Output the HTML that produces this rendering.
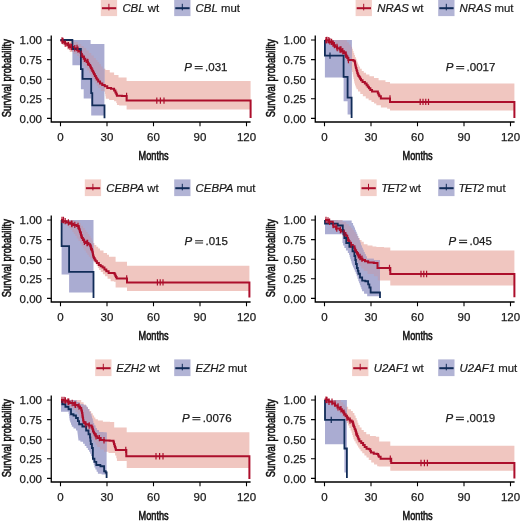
<!DOCTYPE html>
<html><head><meta charset="utf-8"><style>
html,body{margin:0;padding:0;background:#fff;}
svg{display:block;will-change:transform;filter:blur(0.3px);}
text{font-family:"Liberation Sans", sans-serif;fill:#222;}
.tk{font-size:11.5px;fill:#1a1a1a;stroke:#1a1a1a;stroke-width:0.25px;}
.ax{font-size:12.4px;fill:#111;stroke:#111;stroke-width:0.6px;}
.pv{font-size:11.5px;fill:#1a1a1a;stroke:#1a1a1a;stroke-width:0.25px;}
.lg{font-size:11.4px;fill:#1a1a1a;stroke:#1a1a1a;stroke-width:0.2px;}
</style></head><body>
<svg width="520" height="524" viewBox="0 0 520 524">
<rect width="520" height="524" fill="#fff"/>
<g transform="translate(0,0)">
<clipPath id="cb1"><path d="M72.4 40L90.6 40L90.6 44L104.4 44L104.4 115.6L91.2 115.6L91.2 98.4L83.7 98.4L83.7 89.2L80.9 89.2L80.9 65.2L72.4 65.2Z"/></clipPath>
<path d="M60.5 40L72 40L74 40L74 42L76 42L78 42L78 44L80 44L81.25 44L81.25 46L83.75 46L83.75 48L85 48L86.25 48L86.25 50.5L88.75 50.5L88.75 53L90 53L91.25 53L91.25 55.5L93.75 55.5L93.75 58L95 58L95.83 58L95.83 60L97.5 60L97.5 62L99.17 62L99.17 64L100 64L100.88 64L100.88 66.38L102.62 66.38L102.62 68.75L103.5 68.75L105.38 68.75L105.38 70L107.25 70L109.75 70L109.75 72.5L112.25 72.5L114.12 72.5L114.12 75L116 75L118.5 75L118.5 77.5L121 77.5L126.6 77.5L126.6 81L250.6 81L250.6 109.4L126.6 109.4L126.6 105.6L121 105.6L119.12 105.6L119.12 105L117.25 105L116.94 105L116.94 103.12L116.31 103.12L116.31 101.25L116 101.25L114.12 101.25L114.12 100L112.25 100L109.12 100L109.12 98.75L106 98.75L105.79 98.75L105.79 96.33L105.38 96.33L105.38 93.92L104.96 93.92L104.96 91.5L104.75 91.5L103.88 91.5L103.88 91L103 91L101 91L101 88L99 88L98.25 88L98.25 86L96.75 86L96.75 84L96 84L95.25 84L95.25 81.5L93.75 81.5L93.75 79L93 79L92.5 79L92.5 77L91.5 77L91.5 75L90.5 75L90.5 73L90 73L89 73L89 70.5L87 70.5L87 68L86 68L85.25 68L85.25 66L83.75 66L83.75 64L83 64L82.5 64L82.5 62L81.5 62L81.5 60L80.5 60L80.5 58L80 58L79 58L79 56L77 56L77 54L76 54L73.5 54L73.5 52L71 52L69.75 52L69.75 49.5L67.25 49.5L67.25 47L66 47L65 47L65 45L63 45L63 43L62 43L61.25 43L61.25 40L60.5 40Z" fill="rgb(240,198,192)"/>
<path d="M72.4 40L90.6 40L90.6 44L104.4 44L104.4 115.6L91.2 115.6L91.2 98.4L83.7 98.4L83.7 89.2L80.9 89.2L80.9 65.2L72.4 65.2Z" fill="rgb(170,172,210)"/>
<path d="M60.5 40L72 40L74 40L74 42L76 42L78 42L78 44L80 44L81.25 44L81.25 46L83.75 46L83.75 48L85 48L86.25 48L86.25 50.5L88.75 50.5L88.75 53L90 53L91.25 53L91.25 55.5L93.75 55.5L93.75 58L95 58L95.83 58L95.83 60L97.5 60L97.5 62L99.17 62L99.17 64L100 64L100.88 64L100.88 66.38L102.62 66.38L102.62 68.75L103.5 68.75L105.38 68.75L105.38 70L107.25 70L109.75 70L109.75 72.5L112.25 72.5L114.12 72.5L114.12 75L116 75L118.5 75L118.5 77.5L121 77.5L126.6 77.5L126.6 81L250.6 81L250.6 109.4L126.6 109.4L126.6 105.6L121 105.6L119.12 105.6L119.12 105L117.25 105L116.94 105L116.94 103.12L116.31 103.12L116.31 101.25L116 101.25L114.12 101.25L114.12 100L112.25 100L109.12 100L109.12 98.75L106 98.75L105.79 98.75L105.79 96.33L105.38 96.33L105.38 93.92L104.96 93.92L104.96 91.5L104.75 91.5L103.88 91.5L103.88 91L103 91L101 91L101 88L99 88L98.25 88L98.25 86L96.75 86L96.75 84L96 84L95.25 84L95.25 81.5L93.75 81.5L93.75 79L93 79L92.5 79L92.5 77L91.5 77L91.5 75L90.5 75L90.5 73L90 73L89 73L89 70.5L87 70.5L87 68L86 68L85.25 68L85.25 66L83.75 66L83.75 64L83 64L82.5 64L82.5 62L81.5 62L81.5 60L80.5 60L80.5 58L80 58L79 58L79 56L77 56L77 54L76 54L73.5 54L73.5 52L71 52L69.75 52L69.75 49.5L67.25 49.5L67.25 47L66 47L65 47L65 45L63 45L63 43L62 43L61.25 43L61.25 40L60.5 40Z" fill="rgb(182,162,190)" clip-path="url(#cb1)"/>
<path d="M60.5 40L61.25 40L61.25 40.5L62 40.5L63 40.5L63 42L65 42L65 43.5L66 43.5L67.25 43.5L67.25 45.25L69.75 45.25L69.75 47L71 47L73.5 47L73.5 48.3L76 48.3L77 48.3L77 49.65L79 49.65L79 51L80 51L80.38 51L80.38 52.5L81.12 52.5L81.12 54L81.88 54L81.88 55.5L82.62 55.5L82.62 57L83 57L83.75 57L83.75 58.75L85.25 58.75L85.25 60.5L86 60.5L86.62 60.5L86.62 62L87.88 62L87.88 63.5L89.12 63.5L89.12 65L89.75 65L90.12 65L90.12 66.5L90.88 66.5L90.88 68L91.62 68L91.62 69.5L92.38 69.5L92.38 71L93.12 71L93.12 72.5L93.5 72.5L93.97 72.5L93.97 74.25L94.91 74.25L94.91 76L95.84 76L95.84 77.75L96.78 77.75L96.78 79.5L97.25 79.5L98.19 79.5L98.19 81.5L100.06 81.5L100.06 83.5L101 83.5L102.25 83.5L102.25 85L103.5 85L104.75 85L104.75 86.25L106 86.25L107.25 86.25L107.25 88.1L108.5 88.1L111 88.1L111 88.75L113.5 88.75L114.12 88.75L114.12 90.62L115.38 90.62L115.38 92.5L116 92.5L116.31 92.5L116.31 94.15L116.94 94.15L116.94 95.8L117.25 95.8L121.92 95.8L121.92 96L126.6 96L126.6 100.6L250.6 100.6L250.6 118" stroke="#AC0E2B" stroke-width="2" fill="none"/>
<path d="M60.5 40L72.4 40L72.4 49L80.9 49L80.9 69.2L82.6 69.2L82.6 78.9L91.2 78.9L91.2 93.2L92.3 93.2L92.3 105.4L104.5 105.4L104.5 118.2" stroke="#112C58" stroke-width="1.8" fill="none"/>
<path d="M126.6 92.8V99.2M156.8 97.4V103.8M160.4 97.4V103.8M164 97.4V103.8M63 37.8V44.2M70 43.3V49.7M77 44.8V51.2M88 59.3V65.7M62 37.3V43.7M65.2 40.3V46.7M68.4 42.05V48.45M71.6 43.8V50.2M74.8 45.1V51.5M78 46.45V52.85M81.2 50.8V57.2M84.4 55.55V61.95M87.6 58.8V65.2" stroke="#AC0E2B" stroke-width="1.2" fill="none"/>
<path d="M51.25 35.6V122.6M50.6 122H250.6" stroke="#000" stroke-width="1.3" fill="none"/>
<path d="M47 40H51.25M47 59.6H51.25M47 79.2H51.25M47 98.8H51.25M47 118.4H51.25M60.5 122V126.3M107 122V126.3M153.5 122V126.3M200 122V126.3M246.5 122V126.3" stroke="#000" stroke-width="1.1" fill="none"/>
<text x="42" y="44.3" text-anchor="end" class="tk">1.00</text>
<text x="42" y="63.9" text-anchor="end" class="tk">0.75</text>
<text x="42" y="83.5" text-anchor="end" class="tk">0.50</text>
<text x="42" y="103.1" text-anchor="end" class="tk">0.25</text>
<text x="42" y="122.7" text-anchor="end" class="tk">0.00</text>
<text x="60.5" y="140.6" text-anchor="middle" class="tk">0</text>
<text x="107" y="140.6" text-anchor="middle" class="tk">30</text>
<text x="153.5" y="140.6" text-anchor="middle" class="tk">60</text>
<text x="200" y="140.6" text-anchor="middle" class="tk">90</text>
<text x="246.5" y="140.6" text-anchor="middle" class="tk">120</text>
<text transform="translate(153.6,159.5) scale(0.74,1)" text-anchor="middle" class="ax">Months</text>
<text transform="translate(10.6,78.2) rotate(-90) scale(0.75,1)" text-anchor="middle" class="ax">Survival probability</text>
<text x="184.2" y="70.7" class="pv" font-style="italic">P</text>
<path d="M194.7 66.4h8M194.7 68.7h8" stroke="#222" stroke-width="1.05" fill="none"/>
<text x="205.1" y="70.7" class="pv">.031</text>
<rect x="100.8" y="-0.6" width="16.3" height="16.7" fill="rgb(243,207,201)"/>
<path d="M101.9 8.2H116.2" stroke="#AC0E2B" stroke-width="2" fill="none"/>
<path d="M108.9 3.8V10.4" stroke="#AC0E2B" stroke-width="1" fill="none"/>
<text x="122.4" y="11.6" class="lg"><tspan font-style="italic">CBL</tspan> wt</text>
<rect x="174.2" y="-0.6" width="16.3" height="16.7" fill="rgb(178,180,213)"/>
<path d="M175.3 8.2H189.6" stroke="#112C58" stroke-width="2" fill="none"/>
<path d="M182.3 3.8V10.4" stroke="#112C58" stroke-width="1" fill="none"/>
<text x="195.6" y="11.6" class="lg"><tspan font-style="italic">CBL</tspan> mut</text>
</g>
<g transform="translate(264,0)">
<clipPath id="cb2"><path d="M60.9 40L87.9 40L87.9 114.4L83.6 114.4L83.6 101.25L79.6 101.25L79.6 77.4L60.9 77.4Z"/></clipPath>
<path d="M60.9 40L82 40L82.96 40L82.96 42.25L84.88 42.25L84.88 44.5L86.79 44.5L86.79 46.75L87.75 46.75L88.11 46.75L88.11 48.81L88.82 48.81L88.82 50.88L89.53 50.88L89.53 52.94L90.24 52.94L90.24 55L90.6 55L90.98 55L90.98 56.9L91.75 56.9L91.75 58.8L92.52 58.8L92.52 60.7L92.9 60.7L93.28 60.7L93.28 62.6L94.05 62.6L94.05 64.5L94.82 64.5L94.82 66.4L95.2 66.4L96.05 66.4L96.05 68.7L97.75 68.7L97.75 71L98.6 71L99.75 71L99.75 72.75L102.05 72.75L102.05 74.5L103.2 74.5L105.45 74.5L105.45 76.2L107.7 76.2L110 76.2L110 77.9L112.3 77.9L114.6 77.9L114.6 80.2L116.9 80.2L121.45 80.2L121.45 81.9L126 81.9L126 83.6L250.4 83.6L250.4 110.5L126 110.5L126 108.8L123.15 108.8L123.15 107.6L120.3 107.6L116.9 107.6L116.9 105.3L113.5 105.3L112.35 105.3L112.35 103.6L110.05 103.6L110.05 101.9L108.9 101.9L107.48 101.9L107.48 100.2L104.62 100.2L104.62 98.5L103.2 98.5L101.75 98.5L101.75 96.2L98.85 96.2L98.85 93.9L97.4 93.9L96.28 93.9L96.28 91.6L94.03 91.6L94.03 89.3L92.9 89.3L92.52 89.3L92.52 87.4L91.75 87.4L91.75 85.5L90.98 85.5L90.98 83.6L90.6 83.6L90.39 83.6L90.39 81.28L89.97 81.28L89.97 78.96L89.55 78.96L89.55 76.64L89.13 76.64L89.13 74.32L88.71 74.32L88.71 72L88.5 72L88.08 72L88.08 70L87.25 70L87.25 68L86.42 68L86.42 66L86 66L85.33 66L85.33 64L84 64L84 62L82.67 62L82.67 60L82 60L81.17 60L81.17 58L79.5 58L79.5 56L77.83 56L77.83 54L77 54L75.75 54L75.75 52L73.25 52L73.25 50L72 50L71 50L71 48L69 48L69 46L67 46L67 44L66 44L64.72 44L64.72 42L62.17 42L62.17 40L60.9 40Z" fill="rgb(240,198,192)"/>
<path d="M60.9 40L87.9 40L87.9 114.4L83.6 114.4L83.6 101.25L79.6 101.25L79.6 77.4L60.9 77.4Z" fill="rgb(170,172,210)"/>
<path d="M60.9 40L82 40L82.96 40L82.96 42.25L84.88 42.25L84.88 44.5L86.79 44.5L86.79 46.75L87.75 46.75L88.11 46.75L88.11 48.81L88.82 48.81L88.82 50.88L89.53 50.88L89.53 52.94L90.24 52.94L90.24 55L90.6 55L90.98 55L90.98 56.9L91.75 56.9L91.75 58.8L92.52 58.8L92.52 60.7L92.9 60.7L93.28 60.7L93.28 62.6L94.05 62.6L94.05 64.5L94.82 64.5L94.82 66.4L95.2 66.4L96.05 66.4L96.05 68.7L97.75 68.7L97.75 71L98.6 71L99.75 71L99.75 72.75L102.05 72.75L102.05 74.5L103.2 74.5L105.45 74.5L105.45 76.2L107.7 76.2L110 76.2L110 77.9L112.3 77.9L114.6 77.9L114.6 80.2L116.9 80.2L121.45 80.2L121.45 81.9L126 81.9L126 83.6L250.4 83.6L250.4 110.5L126 110.5L126 108.8L123.15 108.8L123.15 107.6L120.3 107.6L116.9 107.6L116.9 105.3L113.5 105.3L112.35 105.3L112.35 103.6L110.05 103.6L110.05 101.9L108.9 101.9L107.48 101.9L107.48 100.2L104.62 100.2L104.62 98.5L103.2 98.5L101.75 98.5L101.75 96.2L98.85 96.2L98.85 93.9L97.4 93.9L96.28 93.9L96.28 91.6L94.03 91.6L94.03 89.3L92.9 89.3L92.52 89.3L92.52 87.4L91.75 87.4L91.75 85.5L90.98 85.5L90.98 83.6L90.6 83.6L90.39 83.6L90.39 81.28L89.97 81.28L89.97 78.96L89.55 78.96L89.55 76.64L89.13 76.64L89.13 74.32L88.71 74.32L88.71 72L88.5 72L88.08 72L88.08 70L87.25 70L87.25 68L86.42 68L86.42 66L86 66L85.33 66L85.33 64L84 64L84 62L82.67 62L82.67 60L82 60L81.17 60L81.17 58L79.5 58L79.5 56L77.83 56L77.83 54L77 54L75.75 54L75.75 52L73.25 52L73.25 50L72 50L71 50L71 48L69 48L69 46L67 46L67 44L66 44L64.72 44L64.72 42L62.17 42L62.17 40L60.9 40Z" fill="rgb(182,162,190)" clip-path="url(#cb2)"/>
<path d="M60.9 40.2L62.2 40.2L65 40.2L65 41.9L67.8 41.9L68.48 41.9L68.48 43.53L69.85 43.53L69.85 45.17L71.22 45.17L71.22 46.8L71.9 46.8L73.12 46.8L73.12 48.15L75.58 48.15L75.58 49.5L76.8 49.5L77.85 49.5L77.85 51.25L79.95 51.25L79.95 53L81 53L81.45 53L81.45 54.63L82.35 54.63L82.35 56.27L83.25 56.27L83.25 57.9L83.7 57.9L84.35 57.9L84.35 60L85 60L86.65 60L86.65 60.1L88.3 60.1L89.45 60.1L89.45 60.7L90.6 60.7L90.74 60.7L90.74 62.12L91.01 62.12L91.01 63.55L91.29 63.55L91.29 64.98L91.56 64.98L91.56 66.4L91.7 66.4L91.93 66.4L91.93 68.02L92.39 68.02L92.39 69.64L92.85 69.64L92.85 71.26L93.31 71.26L93.31 72.88L93.77 72.88L93.77 74.5L94 74.5L94.42 74.5L94.42 75.92L95.28 75.92L95.28 77.35L96.12 77.35L96.12 78.78L96.98 78.78L96.98 80.2L97.4 80.2L98.55 80.2L98.55 81.9L100.85 81.9L100.85 83.6L102 83.6L102.58 83.6L102.58 85.13L103.75 85.13L103.75 86.67L104.92 86.67L104.92 88.2L105.5 88.2L106.35 88.2L106.35 89.9L108.05 89.9L108.05 91.6L108.9 91.6L113.5 91.6L113.87 91.6L113.87 93.13L114.6 93.13L114.6 94.67L115.33 94.67L115.33 96.2L115.7 96.2L116.85 96.2L116.85 98.5L118 98.5L126 98.5L126 101.9L250.4 101.9L250.4 118" stroke="#AC0E2B" stroke-width="2" fill="none"/>
<path d="M60.9 40L60.9 55.6L79.6 55.6L79.6 76.8L83.6 76.8L83.6 97.7L87.6 97.7L87.6 118.1" stroke="#112C58" stroke-width="1.8" fill="none"/>
<path d="M126 95.3V101.7M156.2 98.7V105.1M159 98.7V105.1M161.75 98.7V105.1M164.5 98.7V105.1M63 36.8V43.2M66 38.3V44.7M69 40.3V46.7M73 43.8V50.2M77 46.3V52.7M82 51.3V57.7M62 37V43.4M64.8 37V43.4M67.6 38.7V45.1M70.4 41.97V48.37M73.2 44.95V51.35M76 46.3V52.7M78.8 48.05V54.45M81.6 51.43V57.83M84.4 56.8V63.2" stroke="#AC0E2B" stroke-width="1.2" fill="none"/>
<path d="M66 52.4V58.8" stroke="#112C58" stroke-width="1.2" fill="none"/>
<path d="M51.25 35.6V122.6M50.6 122H250.6" stroke="#000" stroke-width="1.3" fill="none"/>
<path d="M47 40H51.25M47 59.6H51.25M47 79.2H51.25M47 98.8H51.25M47 118.4H51.25M60.5 122V126.3M107 122V126.3M153.5 122V126.3M200 122V126.3M246.5 122V126.3" stroke="#000" stroke-width="1.1" fill="none"/>
<text x="42" y="44.3" text-anchor="end" class="tk">1.00</text>
<text x="42" y="63.9" text-anchor="end" class="tk">0.75</text>
<text x="42" y="83.5" text-anchor="end" class="tk">0.50</text>
<text x="42" y="103.1" text-anchor="end" class="tk">0.25</text>
<text x="42" y="122.7" text-anchor="end" class="tk">0.00</text>
<text x="60.5" y="140.6" text-anchor="middle" class="tk">0</text>
<text x="107" y="140.6" text-anchor="middle" class="tk">30</text>
<text x="153.5" y="140.6" text-anchor="middle" class="tk">60</text>
<text x="200" y="140.6" text-anchor="middle" class="tk">90</text>
<text x="246.5" y="140.6" text-anchor="middle" class="tk">120</text>
<text transform="translate(153.6,159.5) scale(0.74,1)" text-anchor="middle" class="ax">Months</text>
<text transform="translate(10.6,78.2) rotate(-90) scale(0.75,1)" text-anchor="middle" class="ax">Survival probability</text>
<text x="181.7" y="70.8" class="pv" font-style="italic">P</text>
<path d="M192.2 66.5h8M192.2 68.8h8" stroke="#222" stroke-width="1.05" fill="none"/>
<text x="202.6" y="70.8" class="pv">.0017</text>
<rect x="91.6" y="-0.6" width="16.3" height="16.7" fill="rgb(243,207,201)"/>
<path d="M92.7 8.2H107" stroke="#AC0E2B" stroke-width="2" fill="none"/>
<path d="M99.7 3.8V10.4" stroke="#AC0E2B" stroke-width="1" fill="none"/>
<text x="113.2" y="11.6" class="lg"><tspan font-style="italic">NRAS</tspan> wt</text>
<rect x="174.2" y="-0.6" width="16.3" height="16.7" fill="rgb(178,180,213)"/>
<path d="M175.3 8.2H189.6" stroke="#112C58" stroke-width="2" fill="none"/>
<path d="M182.3 3.8V10.4" stroke="#112C58" stroke-width="1" fill="none"/>
<text x="195.6" y="11.6" class="lg"><tspan font-style="italic">NRAS</tspan> mut</text>
</g>
<g transform="translate(0,180)">
<clipPath id="cb3"><path d="M61.6 40L93.5 40L93.5 112.5L69.1 112.5L69.1 94.4L61.6 94.4Z"/></clipPath>
<path d="M61 40L70 40L74 40L74 41L78 41L79 41L79 43.33L81 43.33L81 45.67L83 45.67L83 48L84 48L84.75 48L84.75 50L86.25 50L86.25 52L87.75 52L87.75 54L89.25 54L89.25 56L90 56L90.58 56L90.58 58.33L91.75 58.33L91.75 60.67L92.92 60.67L92.92 63L93.5 63L94.44 63L94.44 64.88L96.31 64.88L96.31 66.75L97.25 66.75L98.19 66.75L98.19 68.62L100.06 68.62L100.06 70.5L101 70.5L103.5 70.5L103.5 73L106 73L107 73L107 74.85L109 74.85L109 76.7L110 76.7L115.6 76.7L115.6 81.75L127 81.75L127 85.65L249.4 85.65L249.4 111L127 111L127 107.4L115.6 107.4L115.6 101.8L113.92 101.8L113.92 101.25L112.25 101.25L110.69 101.25L110.69 98.75L107.56 98.75L107.56 96.25L106 96.25L104.96 96.25L104.96 94.17L102.88 94.17L102.88 92.08L100.79 92.08L100.79 90L99.75 90L99.12 90L99.12 87.88L97.88 87.88L97.88 85.75L96.62 85.75L96.62 83.62L95.38 83.62L95.38 81.5L94.75 81.5L93.58 81.5L93.58 80.5L92.4 80.5L91.68 80.5L91.68 78.58L90.22 78.58L90.22 76.65L88.78 76.65L88.78 74.72L87.32 74.72L87.32 72.8L86.6 72.8L85.89 72.8L85.89 70.5L84.46 70.5L84.46 68.2L83.04 68.2L83.04 65.9L81.61 65.9L81.61 63.6L80.9 63.6L80.08 63.6L80.08 61.07L78.45 61.07L78.45 58.53L76.82 58.53L76.82 56L76 56L75.28 56L75.28 54L73.85 54L73.85 52L72.42 52L72.42 50L71.7 50L70.75 50L70.75 48L68.85 48L68.85 46L66.95 46L66.95 44L66 44L63.5 44L63.5 41L61 41Z" fill="rgb(240,198,192)"/>
<path d="M61.6 40L93.5 40L93.5 112.5L69.1 112.5L69.1 94.4L61.6 94.4Z" fill="rgb(170,172,210)"/>
<path d="M61 40L70 40L74 40L74 41L78 41L79 41L79 43.33L81 43.33L81 45.67L83 45.67L83 48L84 48L84.75 48L84.75 50L86.25 50L86.25 52L87.75 52L87.75 54L89.25 54L89.25 56L90 56L90.58 56L90.58 58.33L91.75 58.33L91.75 60.67L92.92 60.67L92.92 63L93.5 63L94.44 63L94.44 64.88L96.31 64.88L96.31 66.75L97.25 66.75L98.19 66.75L98.19 68.62L100.06 68.62L100.06 70.5L101 70.5L103.5 70.5L103.5 73L106 73L107 73L107 74.85L109 74.85L109 76.7L110 76.7L115.6 76.7L115.6 81.75L127 81.75L127 85.65L249.4 85.65L249.4 111L127 111L127 107.4L115.6 107.4L115.6 101.8L113.92 101.8L113.92 101.25L112.25 101.25L110.69 101.25L110.69 98.75L107.56 98.75L107.56 96.25L106 96.25L104.96 96.25L104.96 94.17L102.88 94.17L102.88 92.08L100.79 92.08L100.79 90L99.75 90L99.12 90L99.12 87.88L97.88 87.88L97.88 85.75L96.62 85.75L96.62 83.62L95.38 83.62L95.38 81.5L94.75 81.5L93.58 81.5L93.58 80.5L92.4 80.5L91.68 80.5L91.68 78.58L90.22 78.58L90.22 76.65L88.78 76.65L88.78 74.72L87.32 74.72L87.32 72.8L86.6 72.8L85.89 72.8L85.89 70.5L84.46 70.5L84.46 68.2L83.04 68.2L83.04 65.9L81.61 65.9L81.61 63.6L80.9 63.6L80.08 63.6L80.08 61.07L78.45 61.07L78.45 58.53L76.82 58.53L76.82 56L76 56L75.28 56L75.28 54L73.85 54L73.85 52L72.42 52L72.42 50L71.7 50L70.75 50L70.75 48L68.85 48L68.85 46L66.95 46L66.95 44L66 44L63.5 44L63.5 41L61 41Z" fill="rgb(182,162,190)" clip-path="url(#cb3)"/>
<path d="M61 39.9L62.88 39.9L62.88 41.15L66.62 41.15L66.62 42.4L68.5 42.4L70.06 42.4L70.06 43.65L73.19 43.65L73.19 44.9L74.75 44.9L76.62 44.9L76.62 46L78.5 46L78.71 46L78.71 47.5L79.12 47.5L79.12 49L79.54 49L79.54 50.5L79.75 50.5L80 50.5L80 52L80.5 52L80.5 53.5L81 53.5L81 55L81.5 55L81.5 56.5L82 56.5L82 58L82.25 58L82.88 58L82.88 59.88L84.12 59.88L84.12 61.75L84.75 61.75L86 61.75L86 63L88.5 63L88.5 64.25L89.75 64.25L90.06 64.25L90.06 65.81L90.69 65.81L90.69 67.38L91.31 67.38L91.31 68.94L91.94 68.94L91.94 70.5L92.25 70.5L92.41 70.5L92.41 72.06L92.72 72.06L92.72 73.62L93.03 73.62L93.03 75.19L93.34 75.19L93.34 76.75L93.5 76.75L93.92 76.75L93.92 78.25L94.75 78.25L94.75 79.75L95.58 79.75L95.58 81.25L96 81.25L96.94 81.25L96.94 83.12L98.81 83.12L98.81 85L99.75 85L100.69 85L100.69 86.25L102.56 86.25L102.56 87.5L103.5 87.5L104.44 87.5L104.44 89.38L106.31 89.38L106.31 91.25L107.25 91.25L108.62 91.25L108.62 92.9L110 92.9L112.1 92.9L112.1 93L114.2 93L114.55 93L114.55 94.35L115.25 94.35L115.25 95.7L115.6 95.7L115.95 95.7L115.95 97.1L116.65 97.1L116.65 98.5L117 98.5L127 98.5L127 102.4L249.4 102.4L249.4 117.5" stroke="#AC0E2B" stroke-width="2" fill="none"/>
<path d="M61.6 40L61.6 66.1L69.1 66.1L69.1 91.9L93.5 91.9L93.5 118.1" stroke="#112C58" stroke-width="1.8" fill="none"/>
<path d="M126.7 95.3V101.7M157.4 99.2V105.6M160.2 99.2V105.6M163 99.2V105.6M63.5 36.8V43.2M72 40.8V47.2M87 59.8V66.2M62 36.7V43.1M65.2 37.95V44.35M68.4 39.2V45.6M71.6 40.45V46.85M74.8 41.7V48.1M78 42.8V49.2M81.2 51.8V58.2M84.4 58.55V64.95M87.6 59.8V66.2M90.8 64.17V70.58" stroke="#AC0E2B" stroke-width="1.2" fill="none"/>
<path d="M51.25 35.6V122.6M50.6 122H250.6" stroke="#000" stroke-width="1.3" fill="none"/>
<path d="M47 40H51.25M47 59.6H51.25M47 79.2H51.25M47 98.8H51.25M47 118.4H51.25M60.5 122V126.3M107 122V126.3M153.5 122V126.3M200 122V126.3M246.5 122V126.3" stroke="#000" stroke-width="1.1" fill="none"/>
<text x="42" y="44.3" text-anchor="end" class="tk">1.00</text>
<text x="42" y="63.9" text-anchor="end" class="tk">0.75</text>
<text x="42" y="83.5" text-anchor="end" class="tk">0.50</text>
<text x="42" y="103.1" text-anchor="end" class="tk">0.25</text>
<text x="42" y="122.7" text-anchor="end" class="tk">0.00</text>
<text x="60.5" y="140.6" text-anchor="middle" class="tk">0</text>
<text x="107" y="140.6" text-anchor="middle" class="tk">30</text>
<text x="153.5" y="140.6" text-anchor="middle" class="tk">60</text>
<text x="200" y="140.6" text-anchor="middle" class="tk">90</text>
<text x="246.5" y="140.6" text-anchor="middle" class="tk">120</text>
<text transform="translate(153.6,159.5) scale(0.74,1)" text-anchor="middle" class="ax">Months</text>
<text transform="translate(10.6,78.2) rotate(-90) scale(0.75,1)" text-anchor="middle" class="ax">Survival probability</text>
<text x="184.6" y="65" class="pv" font-style="italic">P</text>
<path d="M195.1 60.7h8M195.1 63h8" stroke="#222" stroke-width="1.05" fill="none"/>
<text x="205.5" y="65" class="pv">.015</text>
<rect x="84.8" y="-0.6" width="16.3" height="16.7" fill="rgb(243,207,201)"/>
<path d="M85.9 8.2H100.2" stroke="#AC0E2B" stroke-width="2" fill="none"/>
<path d="M92.9 3.8V10.4" stroke="#AC0E2B" stroke-width="1" fill="none"/>
<text x="106.3" y="11.6" class="lg"><tspan font-style="italic">CEBPA</tspan> wt</text>
<rect x="174.2" y="-0.6" width="16.3" height="16.7" fill="rgb(178,180,213)"/>
<path d="M175.3 8.2H189.6" stroke="#112C58" stroke-width="2" fill="none"/>
<path d="M182.3 3.8V10.4" stroke="#112C58" stroke-width="1" fill="none"/>
<text x="195.6" y="11.6" class="lg"><tspan font-style="italic">CEBPA</tspan> mut</text>
</g>
<g transform="translate(264,180)">
<clipPath id="cb4"><path d="M61 40L74 40L74 40.5L87 40.5L87.69 40.5L87.69 43L89.06 43L89.06 45.5L89.75 45.5L90.17 45.5L90.17 47.58L91 47.58L91 49.67L91.83 49.67L91.83 51.75L92.25 51.75L92.67 51.75L92.67 53.83L93.5 53.83L93.5 55.92L94.33 55.92L94.33 58L94.75 58L95.06 58L95.06 59.88L95.69 59.88L95.69 61.75L96 61.75L96.31 61.75L96.31 63.62L96.94 63.62L96.94 65.5L97.25 65.5L97.71 65.5L97.71 67.67L98.62 67.67L98.62 69.83L99.54 69.83L99.54 72L100 72L100.58 72L100.58 74.25L101.75 74.25L101.75 76.5L102.92 76.5L102.92 78.75L103.5 78.75L109.75 78.75L109.75 80L116 80L116 116.25L104.75 116.25L103.19 116.25L103.19 113.75L100.06 113.75L100.06 111.25L98.5 111.25L98.12 111.25L98.12 109.25L97.38 109.25L97.38 107.25L96.62 107.25L96.62 105.25L95.88 105.25L95.88 103.25L95.12 103.25L95.12 101.25L94.75 101.25L94.33 101.25L94.33 98.75L93.5 98.75L93.5 96.25L92.67 96.25L92.67 93.75L92.25 93.75L91.78 93.75L91.78 91.69L90.84 91.69L90.84 89.62L89.91 89.62L89.91 87.56L88.97 87.56L88.97 85.5L88.5 85.5L88.19 85.5L88.19 83.42L87.56 83.42L87.56 81.33L86.94 81.33L86.94 79.25L86.31 79.25L86.31 77.17L85.69 77.17L85.69 75.08L85.06 75.08L85.06 73L84.75 73L83.81 73L83.81 70.5L81.94 70.5L81.94 68L81 68L80.38 68L80.38 65.5L79.12 65.5L79.12 63L78.5 63L78.5 54.25L61 54.25Z"/></clipPath>
<path d="M61 40L76 40L78.5 40L78.5 42L81 42L82.25 42L82.25 44L84.75 44L84.75 46L86 46L86.83 46L86.83 48L88.5 48L88.5 50L90.17 50L90.17 52L91 52L91.62 52L91.62 54L92.88 54L92.88 56L94.12 56L94.12 58L94.75 58L95.69 58L95.69 59.88L97.56 59.88L97.56 61.75L98.5 61.75L99.75 61.75L99.75 64.25L101 64.25L103.5 64.25L103.5 65.5L106 65.5L108.5 65.5L108.5 66.5L111 66.5L112.4 66.5L112.4 67L113.8 67L120.05 67L120.05 67.5L126.3 67.5L126.3 70.6L250.4 70.6L250.4 105.5L126.3 105.5L126.3 100.4L113.8 100.4L113.8 96.25L109.9 96.25L109.9 94L106 94L103.5 94L103.5 91L101 91L99.75 91L99.75 88.5L97.25 88.5L97.25 86L96 86L95.38 86L95.38 84L94.12 84L94.12 82L92.88 82L92.88 80L91.62 80L91.62 78L91 78L90.5 78L90.5 76L89.5 76L89.5 74L88.5 74L88.5 72L87.5 72L87.5 70L86.5 70L86.5 68L86 68L85.5 68L85.5 66L84.5 66L84.5 64L83.5 64L83.5 62L82.5 62L82.5 60L81.5 60L81.5 58L81 58L80.38 58L80.38 56L79.12 56L79.12 54L77.88 54L77.88 52L76.62 52L76.62 50L76 50L74.25 50L74.25 47.5L70.75 47.5L70.75 45L69 45L67 45L67 43L63 43L63 41L61 41Z" fill="rgb(240,198,192)"/>
<path d="M61 40L74 40L74 40.5L87 40.5L87.69 40.5L87.69 43L89.06 43L89.06 45.5L89.75 45.5L90.17 45.5L90.17 47.58L91 47.58L91 49.67L91.83 49.67L91.83 51.75L92.25 51.75L92.67 51.75L92.67 53.83L93.5 53.83L93.5 55.92L94.33 55.92L94.33 58L94.75 58L95.06 58L95.06 59.88L95.69 59.88L95.69 61.75L96 61.75L96.31 61.75L96.31 63.62L96.94 63.62L96.94 65.5L97.25 65.5L97.71 65.5L97.71 67.67L98.62 67.67L98.62 69.83L99.54 69.83L99.54 72L100 72L100.58 72L100.58 74.25L101.75 74.25L101.75 76.5L102.92 76.5L102.92 78.75L103.5 78.75L109.75 78.75L109.75 80L116 80L116 116.25L104.75 116.25L103.19 116.25L103.19 113.75L100.06 113.75L100.06 111.25L98.5 111.25L98.12 111.25L98.12 109.25L97.38 109.25L97.38 107.25L96.62 107.25L96.62 105.25L95.88 105.25L95.88 103.25L95.12 103.25L95.12 101.25L94.75 101.25L94.33 101.25L94.33 98.75L93.5 98.75L93.5 96.25L92.67 96.25L92.67 93.75L92.25 93.75L91.78 93.75L91.78 91.69L90.84 91.69L90.84 89.62L89.91 89.62L89.91 87.56L88.97 87.56L88.97 85.5L88.5 85.5L88.19 85.5L88.19 83.42L87.56 83.42L87.56 81.33L86.94 81.33L86.94 79.25L86.31 79.25L86.31 77.17L85.69 77.17L85.69 75.08L85.06 75.08L85.06 73L84.75 73L83.81 73L83.81 70.5L81.94 70.5L81.94 68L81 68L80.38 68L80.38 65.5L79.12 65.5L79.12 63L78.5 63L78.5 54.25L61 54.25Z" fill="rgb(170,172,210)"/>
<path d="M61 40L76 40L78.5 40L78.5 42L81 42L82.25 42L82.25 44L84.75 44L84.75 46L86 46L86.83 46L86.83 48L88.5 48L88.5 50L90.17 50L90.17 52L91 52L91.62 52L91.62 54L92.88 54L92.88 56L94.12 56L94.12 58L94.75 58L95.69 58L95.69 59.88L97.56 59.88L97.56 61.75L98.5 61.75L99.75 61.75L99.75 64.25L101 64.25L103.5 64.25L103.5 65.5L106 65.5L108.5 65.5L108.5 66.5L111 66.5L112.4 66.5L112.4 67L113.8 67L120.05 67L120.05 67.5L126.3 67.5L126.3 70.6L250.4 70.6L250.4 105.5L126.3 105.5L126.3 100.4L113.8 100.4L113.8 96.25L109.9 96.25L109.9 94L106 94L103.5 94L103.5 91L101 91L99.75 91L99.75 88.5L97.25 88.5L97.25 86L96 86L95.38 86L95.38 84L94.12 84L94.12 82L92.88 82L92.88 80L91.62 80L91.62 78L91 78L90.5 78L90.5 76L89.5 76L89.5 74L88.5 74L88.5 72L87.5 72L87.5 70L86.5 70L86.5 68L86 68L85.5 68L85.5 66L84.5 66L84.5 64L83.5 64L83.5 62L82.5 62L82.5 60L81.5 60L81.5 58L81 58L80.38 58L80.38 56L79.12 56L79.12 54L77.88 54L77.88 52L76.62 52L76.62 50L76 50L74.25 50L74.25 47.5L70.75 47.5L70.75 45L69 45L67 45L67 43L63 43L63 41L61 41Z" fill="rgb(182,162,190)" clip-path="url(#cb4)"/>
<path d="M61 39.9L64.75 39.9L64.75 41.75L68.5 41.75L68.71 41.75L68.71 43.42L69.12 43.42L69.12 45.08L69.54 45.08L69.54 46.75L69.75 46.75L72.25 46.75L72.25 48.6L74.75 48.6L75.79 48.6L75.79 50.07L77.88 50.07L77.88 51.53L79.96 51.53L79.96 53L81 53L81.42 53L81.42 54.67L82.25 54.67L82.25 56.33L83.08 56.33L83.08 58L83.5 58L83.92 58L83.92 59.67L84.75 59.67L84.75 61.33L85.58 61.33L85.58 63L86 63L86.94 63L86.94 64.88L88.81 64.88L88.81 66.75L89.75 66.75L90.22 66.75L90.22 68.5L91.16 68.5L91.16 70.25L92.09 70.25L92.09 72L93.03 72L93.03 73.75L93.5 73.75L94.12 73.75L94.12 75.42L95.38 75.42L95.38 77.08L96.62 77.08L96.62 78.75L97.25 78.75L98.5 78.75L98.5 80L101 80L101 81.25L102.25 81.25L104.12 81.25L104.12 82.5L106 82.5L109.75 82.5L109.75 83.1L113.5 83.1L113.5 87.9L113.8 87.9L126.3 87.9L126.3 94L250.4 94L250.4 117.2" stroke="#AC0E2B" stroke-width="2" fill="none"/>
<path d="M61 40L61 43.6L69 43.6L73.75 43.6L73.75 45.5L78.5 45.5L78.81 45.5L78.81 49.88L79.44 49.88L79.44 54.25L79.75 54.25L80.38 54.25L80.38 58L81 58L82.25 58L82.25 63L83.5 63L85.38 63L85.38 66.75L87.25 66.75L88.5 66.75L88.5 71.25L89.75 71.25L90.38 71.25L90.38 76L91 76L91.31 76L91.31 80L91.94 80L91.94 84L92.25 84L92.88 84L92.88 88L93.5 88L93.81 88L93.81 90.88L94.44 90.88L94.44 93.75L94.75 93.75L96 93.75L96 97.5L97.25 97.5L98.17 97.5L98.17 100.6L99.1 100.6L101.3 100.6L101.3 101.25L103.5 101.25L104.12 101.25L104.12 104.38L105.38 104.38L105.38 107.5L106 107.5L106.62 107.5L106.62 112.5L107.25 112.5L116 112.5L116 118.1" stroke="#112C58" stroke-width="1.8" fill="none"/>
<path d="M125.5 84.7V91.1M157 90.8V97.2M159.8 90.8V97.2M162.6 90.8V97.2M64 37.3V43.7M72 43.8V50.2M96 73.8V80.2M62 36.7V43.1M65.6 38.55V44.95M69.2 41.88V48.28M72.8 45.4V51.8M76.4 46.87V53.27M80 49.8V56.2M83.6 54.8V61.2M87.2 61.67V68.08M90.8 65.3V71.7M94.4 72.22V78.62M98 75.55V81.95" stroke="#AC0E2B" stroke-width="1.2" fill="none"/>
<path d="M51.25 35.6V122.6M50.6 122H250.6" stroke="#000" stroke-width="1.3" fill="none"/>
<path d="M47 40H51.25M47 59.6H51.25M47 79.2H51.25M47 98.8H51.25M47 118.4H51.25M60.5 122V126.3M107 122V126.3M153.5 122V126.3M200 122V126.3M246.5 122V126.3" stroke="#000" stroke-width="1.1" fill="none"/>
<text x="42" y="44.3" text-anchor="end" class="tk">1.00</text>
<text x="42" y="63.9" text-anchor="end" class="tk">0.75</text>
<text x="42" y="83.5" text-anchor="end" class="tk">0.50</text>
<text x="42" y="103.1" text-anchor="end" class="tk">0.25</text>
<text x="42" y="122.7" text-anchor="end" class="tk">0.00</text>
<text x="60.5" y="140.6" text-anchor="middle" class="tk">0</text>
<text x="107" y="140.6" text-anchor="middle" class="tk">30</text>
<text x="153.5" y="140.6" text-anchor="middle" class="tk">60</text>
<text x="200" y="140.6" text-anchor="middle" class="tk">90</text>
<text x="246.5" y="140.6" text-anchor="middle" class="tk">120</text>
<text transform="translate(153.6,159.5) scale(0.74,1)" text-anchor="middle" class="ax">Months</text>
<text transform="translate(10.6,78.2) rotate(-90) scale(0.75,1)" text-anchor="middle" class="ax">Survival probability</text>
<text x="184.6" y="64.6" class="pv" font-style="italic">P</text>
<path d="M195.1 60.3h8M195.1 62.6h8" stroke="#222" stroke-width="1.05" fill="none"/>
<text x="205.5" y="64.6" class="pv">.045</text>
<rect x="96.4" y="-0.6" width="16.3" height="16.7" fill="rgb(243,207,201)"/>
<path d="M97.5 8.2H111.8" stroke="#AC0E2B" stroke-width="2" fill="none"/>
<path d="M104.5 3.8V10.4" stroke="#AC0E2B" stroke-width="1" fill="none"/>
<text x="117.2" y="11.6" class="lg"><tspan font-style="italic" letter-spacing="-0.7">TET2</tspan> wt</text>
<rect x="174.2" y="-0.6" width="16.3" height="16.7" fill="rgb(178,180,213)"/>
<path d="M175.3 8.2H189.6" stroke="#112C58" stroke-width="2" fill="none"/>
<path d="M182.3 3.8V10.4" stroke="#112C58" stroke-width="1" fill="none"/>
<text x="194.4" y="11.6" class="lg"><tspan font-style="italic" letter-spacing="-0.7">TET2</tspan> mut</text>
</g>
<g transform="translate(0,360)">
<clipPath id="cb5"><path d="M61 40L75 40L76.5 40L76.5 42.12L79.5 42.12L79.5 44.25L81 44.25L83.5 44.25L83.5 45.5L86 45.5L86.62 45.5L86.62 47.38L87.88 47.38L87.88 49.25L88.5 49.25L89.12 49.25L89.12 51.75L90.38 51.75L90.38 54.25L91 54.25L91.31 54.25L91.31 56.44L91.94 56.44L91.94 58.62L92.56 58.62L92.56 60.81L93.19 60.81L93.19 63L93.5 63L94.12 63L94.12 65.5L95.38 65.5L95.38 68L96 68L97 68L97 70L99 70L99 72L100 72L103.3 72L103.3 72.5L106.6 72.5L106.6 114.4L104.75 114.4L101.62 114.4L101.62 113.75L98.5 113.75L97.88 113.75L97.88 111.67L96.62 111.67L96.62 109.58L95.38 109.58L95.38 107.5L94.75 107.5L94.44 107.5L94.44 105.12L93.81 105.12L93.81 102.75L93.19 102.75L93.19 100.38L92.56 100.38L92.56 98L92.25 98L91.83 98L91.83 95.92L91 95.92L91 93.83L90.17 93.83L90.17 91.75L89.75 91.75L89.12 91.75L89.12 89.88L87.88 89.88L87.88 88L87.25 88L86.42 88L86.42 85.92L84.75 85.92L84.75 83.83L83.08 83.83L83.08 81.75L82.25 81.75L80.38 81.75L80.38 80.5L78.5 80.5L78.38 80.5L78.38 78.5L78.12 78.5L78.12 76.5L77.88 76.5L77.88 74.5L77.62 74.5L77.62 72.5L77.38 72.5L77.38 70.5L77.25 70.5L76 70.5L76 68.62L73.5 68.62L73.5 66.75L72.25 66.75L71.83 66.75L71.83 64.67L71 64.67L71 62.58L70.17 62.58L70.17 60.5L69.75 60.5L69.59 60.5L69.59 58.31L69.28 58.31L69.28 56.12L68.97 56.12L68.97 53.94L68.66 53.94L68.66 51.75L68.5 51.75L61 51.75Z"/></clipPath>
<path d="M61 40L80 40L81.21 40L81.21 42.25L83.62 42.25L83.62 44.5L86.04 44.5L86.04 46.75L87.25 46.75L88.03 46.75L88.03 48.94L89.59 48.94L89.59 51.12L91.16 51.12L91.16 53.31L92.72 53.31L92.72 55.5L93.5 55.5L94.12 55.5L94.12 57.38L95.38 57.38L95.38 59.25L96 59.25L97.88 59.25L97.88 60.5L99.75 60.5L102.88 60.5L102.88 61.75L106 61.75L110.1 61.75L110.1 62L114.2 62L114.2 67.5L126.7 67.5L126.7 72.3L249.4 72.3L249.4 108L126.7 108L126.7 101L117.25 101L116.94 101L116.94 98.25L116.31 98.25L116.31 95.5L116 95.5L115.1 95.5L115.1 93L114.2 93L111 93L108.5 93L108.5 91.75L106 91.75L104 91.75L104 89.38L100 89.38L100 87L98 87L97.17 87L97.17 84.67L95.5 84.67L95.5 82.33L93.83 82.33L93.83 80L93 80L92.38 80L92.38 78L91.12 78L91.12 76L89.88 76L89.88 74L88.62 74L88.62 72L88 72L87 72L87 70L85 70L85 68L84 68L83.7 68L83.7 66L83.1 66L83.1 64L82.5 64L82.5 62L81.9 62L81.9 60L81.3 60L81.3 58L81 58L80.33 58L80.33 56L79 56L79 54L77.67 54L77.67 52L77 52L75.5 52L75.5 50L72.5 50L72.5 48L71 48L69.75 48L69.75 46L67.25 46L67.25 44L66 44L63.5 44L63.5 41L61 41Z" fill="rgb(240,198,192)"/>
<path d="M61 40L75 40L76.5 40L76.5 42.12L79.5 42.12L79.5 44.25L81 44.25L83.5 44.25L83.5 45.5L86 45.5L86.62 45.5L86.62 47.38L87.88 47.38L87.88 49.25L88.5 49.25L89.12 49.25L89.12 51.75L90.38 51.75L90.38 54.25L91 54.25L91.31 54.25L91.31 56.44L91.94 56.44L91.94 58.62L92.56 58.62L92.56 60.81L93.19 60.81L93.19 63L93.5 63L94.12 63L94.12 65.5L95.38 65.5L95.38 68L96 68L97 68L97 70L99 70L99 72L100 72L103.3 72L103.3 72.5L106.6 72.5L106.6 114.4L104.75 114.4L101.62 114.4L101.62 113.75L98.5 113.75L97.88 113.75L97.88 111.67L96.62 111.67L96.62 109.58L95.38 109.58L95.38 107.5L94.75 107.5L94.44 107.5L94.44 105.12L93.81 105.12L93.81 102.75L93.19 102.75L93.19 100.38L92.56 100.38L92.56 98L92.25 98L91.83 98L91.83 95.92L91 95.92L91 93.83L90.17 93.83L90.17 91.75L89.75 91.75L89.12 91.75L89.12 89.88L87.88 89.88L87.88 88L87.25 88L86.42 88L86.42 85.92L84.75 85.92L84.75 83.83L83.08 83.83L83.08 81.75L82.25 81.75L80.38 81.75L80.38 80.5L78.5 80.5L78.38 80.5L78.38 78.5L78.12 78.5L78.12 76.5L77.88 76.5L77.88 74.5L77.62 74.5L77.62 72.5L77.38 72.5L77.38 70.5L77.25 70.5L76 70.5L76 68.62L73.5 68.62L73.5 66.75L72.25 66.75L71.83 66.75L71.83 64.67L71 64.67L71 62.58L70.17 62.58L70.17 60.5L69.75 60.5L69.59 60.5L69.59 58.31L69.28 58.31L69.28 56.12L68.97 56.12L68.97 53.94L68.66 53.94L68.66 51.75L68.5 51.75L61 51.75Z" fill="rgb(170,172,210)"/>
<path d="M61 40L80 40L81.21 40L81.21 42.25L83.62 42.25L83.62 44.5L86.04 44.5L86.04 46.75L87.25 46.75L88.03 46.75L88.03 48.94L89.59 48.94L89.59 51.12L91.16 51.12L91.16 53.31L92.72 53.31L92.72 55.5L93.5 55.5L94.12 55.5L94.12 57.38L95.38 57.38L95.38 59.25L96 59.25L97.88 59.25L97.88 60.5L99.75 60.5L102.88 60.5L102.88 61.75L106 61.75L110.1 61.75L110.1 62L114.2 62L114.2 67.5L126.7 67.5L126.7 72.3L249.4 72.3L249.4 108L126.7 108L126.7 101L117.25 101L116.94 101L116.94 98.25L116.31 98.25L116.31 95.5L116 95.5L115.1 95.5L115.1 93L114.2 93L111 93L108.5 93L108.5 91.75L106 91.75L104 91.75L104 89.38L100 89.38L100 87L98 87L97.17 87L97.17 84.67L95.5 84.67L95.5 82.33L93.83 82.33L93.83 80L93 80L92.38 80L92.38 78L91.12 78L91.12 76L89.88 76L89.88 74L88.62 74L88.62 72L88 72L87 72L87 70L85 70L85 68L84 68L83.7 68L83.7 66L83.1 66L83.1 64L82.5 64L82.5 62L81.9 62L81.9 60L81.3 60L81.3 58L81 58L80.33 58L80.33 56L79 56L79 54L77.67 54L77.67 52L77 52L75.5 52L75.5 50L72.5 50L72.5 48L71 48L69.75 48L69.75 46L67.25 46L67.25 44L66 44L63.5 44L63.5 41L61 41Z" fill="rgb(182,162,190)" clip-path="url(#cb5)"/>
<path d="M61 39.9L63.5 39.9L63.5 40.5L66 40.5L67.25 40.5L67.25 41.75L69.75 41.75L69.75 43L71 43L74.12 43L74.12 44.9L77.25 44.9L78.19 44.9L78.19 46.45L80.06 46.45L80.06 48L81 48L81.21 48L81.21 49.67L81.62 49.67L81.62 51.33L82.04 51.33L82.04 53L82.25 53L82.38 53L82.38 54.75L82.62 54.75L82.62 56.5L82.88 56.5L82.88 58.25L83.12 58.25L83.12 60L83.38 60L83.38 61.75L83.5 61.75L84.12 61.75L84.12 63L85.38 63L85.38 64.25L86 64.25L88.5 64.25L88.5 65.5L91 65.5L91.62 65.5L91.62 67.5L92.25 67.5L92.46 67.5L92.46 68.92L92.88 68.92L92.88 70.33L93.29 70.33L93.29 71.75L93.5 71.75L93.92 71.75L93.92 73.25L94.75 73.25L94.75 74.75L95.58 74.75L95.58 76.25L96 76.25L97.56 76.25L97.56 78.12L100.69 78.12L100.69 80L102.25 80L104.12 80L104.12 80.6L106 80.6L109.65 80.6L109.65 80.65L113.3 80.65L113.54 80.65L113.54 82.33L114.03 82.33L114.03 84.02L114.51 84.02L114.51 85.7L114.75 85.7L114.97 85.7L114.97 87.1L115.42 87.1L115.42 88.5L115.88 88.5L115.88 89.9L116.1 89.9L126.3 89.9L126.3 96.3L249.4 96.3L249.4 119" stroke="#AC0E2B" stroke-width="2" fill="none"/>
<path d="M61 41.75L62.25 41.75L62.25 44.25L63.5 44.25L65.38 44.25L65.38 46.75L67.25 46.75L68.5 46.75L68.5 49.25L69.75 49.25L71 49.25L71 54.25L72.25 54.25L73.5 54.25L73.5 55.5L74.75 55.5L76 55.5L76 58L77.25 58L77.88 58L77.88 61.12L79.12 61.12L79.12 64.25L79.75 64.25L82.38 64.25L82.38 66.5L85 66.5L86.12 66.5L86.12 70.5L87.25 70.5L88.5 70.5L88.5 74.25L89.75 74.25L89.96 74.25L89.96 77.5L90.38 77.5L90.38 80.75L90.79 80.75L90.79 84L91 84L91.95 84L91.95 88L92.9 88L92.9 98.75L93.5 98.75L94.44 98.75L94.44 101.88L96.31 101.88L96.31 105L97.25 105L100.38 105L100.38 106.25L103.5 106.25L104.12 106.25L104.12 111.25L104.75 111.25L105.67 111.25L105.67 112.5L106.6 112.5L106.6 118.1" stroke="#112C58" stroke-width="1.8" fill="none"/>
<path d="M125.8 86.7V93.1M156 93.1V99.5M159.6 93.1V99.5M163 93.1V99.5M64 36.8V43.2M68 38.3V44.7M75 41.3V47.7M104 77.1V83.5M62 36.7V43.1M65.4 37.3V43.7M68.8 38.55V44.95M72.2 39.8V46.2M75.6 41.7V48.1M79 43.25V49.65M82.4 51.55V57.95M85.8 61.05V67.45M89.2 62.3V68.7M92.6 65.72V72.12M96 73.05V79.45M99.4 74.92V81.33" stroke="#AC0E2B" stroke-width="1.2" fill="none"/>
<path d="M51.25 35.6V122.6M50.6 122H250.6" stroke="#000" stroke-width="1.3" fill="none"/>
<path d="M47 40H51.25M47 59.6H51.25M47 79.2H51.25M47 98.8H51.25M47 118.4H51.25M60.5 122V126.3M107 122V126.3M153.5 122V126.3M200 122V126.3M246.5 122V126.3" stroke="#000" stroke-width="1.1" fill="none"/>
<text x="42" y="44.3" text-anchor="end" class="tk">1.00</text>
<text x="42" y="63.9" text-anchor="end" class="tk">0.75</text>
<text x="42" y="83.5" text-anchor="end" class="tk">0.50</text>
<text x="42" y="103.1" text-anchor="end" class="tk">0.25</text>
<text x="42" y="122.7" text-anchor="end" class="tk">0.00</text>
<text x="60.5" y="140.6" text-anchor="middle" class="tk">0</text>
<text x="107" y="140.6" text-anchor="middle" class="tk">30</text>
<text x="153.5" y="140.6" text-anchor="middle" class="tk">60</text>
<text x="200" y="140.6" text-anchor="middle" class="tk">90</text>
<text x="246.5" y="140.6" text-anchor="middle" class="tk">120</text>
<text transform="translate(153.6,159.5) scale(0.74,1)" text-anchor="middle" class="ax">Months</text>
<text transform="translate(10.6,78.2) rotate(-90) scale(0.75,1)" text-anchor="middle" class="ax">Survival probability</text>
<text x="181.9" y="61.8" class="pv" font-style="italic">P</text>
<path d="M192.4 57.5h8M192.4 59.8h8" stroke="#222" stroke-width="1.05" fill="none"/>
<text x="202.8" y="61.8" class="pv">.0076</text>
<rect x="95.2" y="-0.6" width="16.3" height="16.7" fill="rgb(243,207,201)"/>
<path d="M96.3 8.2H110.6" stroke="#AC0E2B" stroke-width="2" fill="none"/>
<path d="M103.3 3.8V10.4" stroke="#AC0E2B" stroke-width="1" fill="none"/>
<text x="116.3" y="11.6" class="lg"><tspan font-style="italic">EZH2</tspan> wt</text>
<rect x="174.2" y="-0.6" width="16.3" height="16.7" fill="rgb(178,180,213)"/>
<path d="M175.3 8.2H189.6" stroke="#112C58" stroke-width="2" fill="none"/>
<path d="M182.3 3.8V10.4" stroke="#112C58" stroke-width="1" fill="none"/>
<text x="195.6" y="11.6" class="lg"><tspan font-style="italic">EZH2</tspan> mut</text>
</g>
<g transform="translate(264,360)">
<clipPath id="cb6"><path d="M61 40L82.9 40L82.9 112.5L80.4 112.5L80.4 84.3L61 84.3Z"/></clipPath>
<path d="M61 40L76 40L77.04 40L77.04 42.25L79.12 42.25L79.12 44.5L81.21 44.5L81.21 46.75L82.25 46.75L84.12 46.75L84.12 49.25L86 49.25L86.94 49.25L86.94 51.12L88.81 51.12L88.81 53L89.75 53L90.38 53L90.38 55.5L91.62 55.5L91.62 58L92.25 58L92.67 58L92.67 60.33L93.5 60.33L93.5 62.67L94.33 62.67L94.33 65L94.75 65L95.69 65L95.69 67.5L97.56 67.5L97.56 70L98.5 70L99.75 70L99.75 72.12L102.25 72.12L102.25 74.25L103.5 74.25L106 74.25L106 76L108.5 76L111.85 76L111.85 76.75L115.2 76.75L115.2 81.5L126.3 81.5L126.3 85.7L250.4 85.7L250.4 110.8L126.3 110.8L126.3 106.6L115.2 106.6L114.75 106.6L114.75 106.25L113.19 106.25L113.19 104.38L110.06 104.38L110.06 102.5L108.5 102.5L107.25 102.5L107.25 100L104.75 100L104.75 97.5L103.5 97.5L102.46 97.5L102.46 95.42L100.38 95.42L100.38 93.33L98.29 93.33L98.29 91.25L97.25 91.25L96.62 91.25L96.62 89.33L95.38 89.33L95.38 87.42L94.12 87.42L94.12 85.5L93.5 85.5L92.88 85.5L92.88 83.42L91.62 83.42L91.62 81.33L90.38 81.33L90.38 79.25L89.75 79.25L89.44 79.25L89.44 77.06L88.81 77.06L88.81 74.88L88.19 74.88L88.19 72.69L87.56 72.69L87.56 70.5L87.25 70.5L86.62 70.5L86.62 68L85.38 68L85.38 65.5L84.12 65.5L84.12 63L83.5 63L82.88 63L82.88 61L81.62 61L81.62 59L81 59L80 59L80 56.5L78 56.5L78 54L77 54L75.75 54L75.75 51.5L73.25 51.5L73.25 49L72 49L70.75 49L70.75 46.5L68.25 46.5L68.25 44L67 44L64 44L64 41L61 41Z" fill="rgb(240,198,192)"/>
<path d="M61 40L82.9 40L82.9 112.5L80.4 112.5L80.4 84.3L61 84.3Z" fill="rgb(170,172,210)"/>
<path d="M61 40L76 40L77.04 40L77.04 42.25L79.12 42.25L79.12 44.5L81.21 44.5L81.21 46.75L82.25 46.75L84.12 46.75L84.12 49.25L86 49.25L86.94 49.25L86.94 51.12L88.81 51.12L88.81 53L89.75 53L90.38 53L90.38 55.5L91.62 55.5L91.62 58L92.25 58L92.67 58L92.67 60.33L93.5 60.33L93.5 62.67L94.33 62.67L94.33 65L94.75 65L95.69 65L95.69 67.5L97.56 67.5L97.56 70L98.5 70L99.75 70L99.75 72.12L102.25 72.12L102.25 74.25L103.5 74.25L106 74.25L106 76L108.5 76L111.85 76L111.85 76.75L115.2 76.75L115.2 81.5L126.3 81.5L126.3 85.7L250.4 85.7L250.4 110.8L126.3 110.8L126.3 106.6L115.2 106.6L114.75 106.6L114.75 106.25L113.19 106.25L113.19 104.38L110.06 104.38L110.06 102.5L108.5 102.5L107.25 102.5L107.25 100L104.75 100L104.75 97.5L103.5 97.5L102.46 97.5L102.46 95.42L100.38 95.42L100.38 93.33L98.29 93.33L98.29 91.25L97.25 91.25L96.62 91.25L96.62 89.33L95.38 89.33L95.38 87.42L94.12 87.42L94.12 85.5L93.5 85.5L92.88 85.5L92.88 83.42L91.62 83.42L91.62 81.33L90.38 81.33L90.38 79.25L89.75 79.25L89.44 79.25L89.44 77.06L88.81 77.06L88.81 74.88L88.19 74.88L88.19 72.69L87.56 72.69L87.56 70.5L87.25 70.5L86.62 70.5L86.62 68L85.38 68L85.38 65.5L84.12 65.5L84.12 63L83.5 63L82.88 63L82.88 61L81.62 61L81.62 59L81 59L80 59L80 56.5L78 56.5L78 54L77 54L75.75 54L75.75 51.5L73.25 51.5L73.25 49L72 49L70.75 49L70.75 46.5L68.25 46.5L68.25 44L67 44L64 44L64 41L61 41Z" fill="rgb(182,162,190)" clip-path="url(#cb6)"/>
<path d="M60.5 39.6L61.25 39.6L61.25 39.8L62 39.8L64.62 39.8L64.62 41.75L67.25 41.75L68.5 41.75L68.5 43.62L71 43.62L71 45.5L72.25 45.5L73.5 45.5L73.5 47.38L76 47.38L76 49.25L77.25 49.25L77.88 49.25L77.88 50.92L79.12 50.92L79.12 52.58L80.38 52.58L80.38 54.25L81 54.25L81.62 54.25L81.62 55.92L82.88 55.92L82.88 57.58L84.12 57.58L84.12 59.25L84.75 59.25L85.69 59.25L85.69 60.5L87.56 60.5L87.56 61.75L88.5 61.75L88.81 61.75L88.81 63.62L89.44 63.62L89.44 65.5L89.75 65.5L90.06 65.5L90.06 67.25L90.69 67.25L90.69 69L91.31 69L91.31 70.75L91.94 70.75L91.94 72.5L92.25 72.5L92.56 72.5L92.56 74.19L93.19 74.19L93.19 75.88L93.81 75.88L93.81 77.56L94.44 77.56L94.44 79.25L94.75 79.25L95.38 79.25L95.38 81.25L96 81.25L97.25 81.25L97.25 83L98.5 83L99.12 83L99.12 85L99.75 85L100.69 85L100.69 86.88L102.56 86.88L102.56 88.75L103.5 88.75L104.75 88.75L104.75 89.25L106 89.25L106.31 89.25L106.31 90.88L106.94 90.88L106.94 92.5L107.25 92.5L109.75 92.5L109.75 93.75L112.25 93.75L113.03 93.75L113.03 94L113.8 94L114.15 94L114.15 95.4L114.85 95.4L114.85 96.8L115.2 96.8L116.6 96.8L116.6 98.8L118 98.8L127.2 98.8L127.2 103L250.4 103L250.4 118.6" stroke="#AC0E2B" stroke-width="2" fill="none"/>
<path d="M61 40L61 59.9L80.4 59.9L80.4 88.5L82.9 88.5L82.9 118.1" stroke="#112C58" stroke-width="1.8" fill="none"/>
<path d="M126.3 95.6V102M157 99.8V106.2M160.4 99.8V106.2M163.4 99.8V106.2M63 36.8V43.2M68 38.8V45.2M74 43.3V49.7M62 36.6V43M65 38.55V44.95M68 38.55V44.95M71 40.42V46.83M74 44.17V50.58M77 46.05V52.45M80 49.38V55.78M83 54.38V60.78M86 57.3V63.7M89 60.42V66.83M92 69.3V75.7" stroke="#AC0E2B" stroke-width="1.2" fill="none"/>
<path d="M67.25 56.7V63.1" stroke="#112C58" stroke-width="1.2" fill="none"/>
<path d="M51.25 35.6V122.6M50.6 122H250.6" stroke="#000" stroke-width="1.3" fill="none"/>
<path d="M47 40H51.25M47 59.6H51.25M47 79.2H51.25M47 98.8H51.25M47 118.4H51.25M60.5 122V126.3M107 122V126.3M153.5 122V126.3M200 122V126.3M246.5 122V126.3" stroke="#000" stroke-width="1.1" fill="none"/>
<text x="42" y="44.3" text-anchor="end" class="tk">1.00</text>
<text x="42" y="63.9" text-anchor="end" class="tk">0.75</text>
<text x="42" y="83.5" text-anchor="end" class="tk">0.50</text>
<text x="42" y="103.1" text-anchor="end" class="tk">0.25</text>
<text x="42" y="122.7" text-anchor="end" class="tk">0.00</text>
<text x="60.5" y="140.6" text-anchor="middle" class="tk">0</text>
<text x="107" y="140.6" text-anchor="middle" class="tk">30</text>
<text x="153.5" y="140.6" text-anchor="middle" class="tk">60</text>
<text x="200" y="140.6" text-anchor="middle" class="tk">90</text>
<text x="246.5" y="140.6" text-anchor="middle" class="tk">120</text>
<text transform="translate(153.6,159.5) scale(0.74,1)" text-anchor="middle" class="ax">Months</text>
<text transform="translate(10.6,78.2) rotate(-90) scale(0.75,1)" text-anchor="middle" class="ax">Survival probability</text>
<text x="181.4" y="61.6" class="pv" font-style="italic">P</text>
<path d="M191.9 57.3h8M191.9 59.6h8" stroke="#222" stroke-width="1.05" fill="none"/>
<text x="202.3" y="61.6" class="pv">.0019</text>
<rect x="88.1" y="-0.6" width="16.3" height="16.7" fill="rgb(243,207,201)"/>
<path d="M89.2 8.2H103.5" stroke="#AC0E2B" stroke-width="2" fill="none"/>
<path d="M96.2 3.8V10.4" stroke="#AC0E2B" stroke-width="1" fill="none"/>
<text x="109.7" y="11.6" class="lg"><tspan font-style="italic">U2AF1</tspan> wt</text>
<rect x="174.2" y="-0.6" width="16.3" height="16.7" fill="rgb(178,180,213)"/>
<path d="M175.3 8.2H189.6" stroke="#112C58" stroke-width="2" fill="none"/>
<path d="M182.3 3.8V10.4" stroke="#112C58" stroke-width="1" fill="none"/>
<text x="195.6" y="11.6" class="lg"><tspan font-style="italic">U2AF1</tspan> mut</text>
</g>
</svg>
</body></html>
